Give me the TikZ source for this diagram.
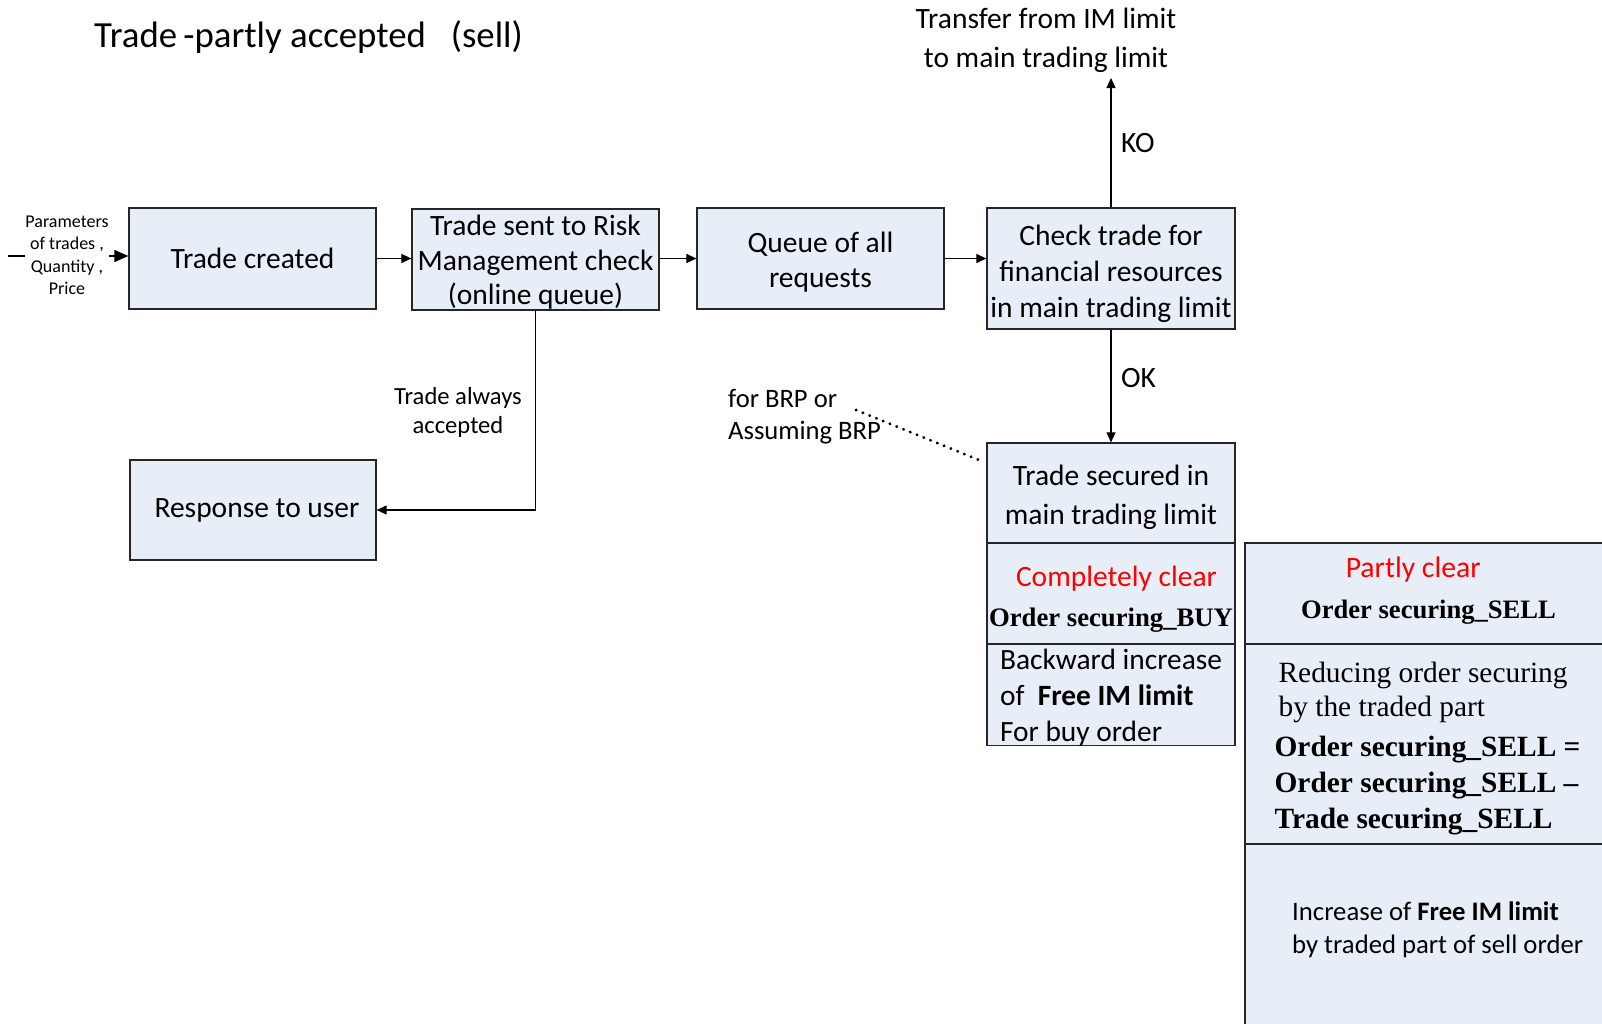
\documentclass[tikz,border=0pt]{standalone}
\usepackage{fontspec}
\setmainfont{Carlito}
\newfontfamily\tnr{Liberation Serif}
\usetikzlibrary{arrows.meta,calc}
\definecolor{boxfill}{RGB}{232,238,247}
\begin{document}
\begin{tikzpicture}[x=1pt,y=-1pt,
  box/.style={draw=black!85, line width=1.2pt, fill=boxfill, inner sep=0pt, align=center,
    minimum width=247pt, minimum height=101pt},
  conn/.style={line width=1.1pt, -{Triangle[length=10pt,width=9pt]}},
  bigconn/.style={line width=1.1pt, -{Triangle[length=14pt,width=12pt]}},
  txt/.style={inner sep=0pt, align=center},
  boxfont/.style={font=\fontsize{29.5}{34.5}\selectfont},
]
\useasboundingbox (0,0) rectangle (1602,1023);
% title
\node[txt, anchor=west, font=\fontsize{36.8}{42}\selectfont] (title) at (94,37) {Trade\,-partly accepted \ \ (sell)};
% main boxes
\node[box, boxfont] (created) at (252.5,258.5) {Trade created};
\node[box] (sent) at (535.5,259.5) {};
\node[txt, boxfont] (senttxt) at ($(sent.center)+(0,3.1)$) {Trade sent to Risk\\Management check\\(online queue)};
\node[box] (queue) at (820.5,258.5) {};
\node[txt, boxfont] (queuetxt) at ($(queue.center)+(0,3.6)$) {Queue of all\\requests};
\node[box, minimum width=248pt, minimum height=121pt] (check) at (1111,268.5) {};
\node[txt, font=\fontsize{29.5}{36}\selectfont] (checktxt) at ($(check.center)+(0,5.1)$) {Check trade for\\financial resources\\in main trading limit};
\node[box, minimum width=248pt, minimum height=100pt] (secured) at (1111,493) {};
\node[txt, font=\fontsize{29.5}{39}\selectfont] (securedtxt) at ($(secured.center)+(0,4.1)$) {Trade secured in\\main trading limit};
\node[box, minimum width=248pt] (clear) at (1111,593.5) {};
\node[txt, font=\fontsize{29.5}{40}\selectfont] (cleartxt) at ($(clear.center)+(0,5.6)$) {\hspace*{11pt}{\color{red}Completely clear}\\{\tnr\bfseries\fontsize{26.7}{40}\selectfont Order securing\_BUY}};
\node[box, minimum width=248pt] (backward) at (1111,695) {};
\node[txt, align=left, font=\fontsize{29.4}{36}\selectfont] (backwardtxt) at ($(backward.center)+(0,3.1)$) {Backward increase\\of \ \textbf{Free IM limit}\\For buy order};
\node[box, boxfont, minimum width=246pt, minimum height=100pt] (response) at (253,510) {\hspace*{8pt}Response to user};
% right column
\node[box, minimum width=365pt] (partly) at (1427.5,593.5) {};
\node[txt, font=\fontsize{29.7}{41}\selectfont] (partlytxt) at ($(partly.center)+(0,-2.5)$) {{\color{red}Partly clear}\hspace*{28.6pt}\\{\tnr\bfseries\fontsize{26.6}{41}\selectfont \hspace*{2pt}Order securing\_SELL}};
\node[box, minimum width=365pt, minimum height=200pt] (reducing) at (1427.5,744) {};
\node[txt, align=left, font=\tnr\fontsize{29.4}{34}\selectfont] (reducingtxt) at ($(reducing.center)+(0,4.6)$) {%
  \hspace*{4pt}Reducing order securing\\
  \hspace*{4pt}by the traded part\\[6pt]
  \bfseries Order securing\_SELL =\\[2pt]
  \bfseries Order securing\_SELL –\\[2pt]
  \bfseries Trade securing\_SELL};
\node[box, minimum width=365pt, minimum height=200pt] (increase) at (1427.5,944) {};
\node[txt, anchor=west, align=left, font=\fontsize{26.7}{33}\selectfont] (increasetxt) at (1292,930) {Increase of \textbf{Free IM limit}\\by traded part of sell order};
% input parameters
\coordinate (pstart) at (8,256);
\draw[bigconn] (pstart) -- (pstart -| created.west);
\node[txt, fill=white, font=\fontsize{18}{22.5}\selectfont] (params) at (67,255.5) {Parameters\\of trades ,\\Quantity ,\\Price};
% flow connectors
\draw[conn] (created.east) -- (sent.west |- created.east);
\draw[conn] (sent.east |- created.east) -- (queue.west);
\draw[conn] (queue.east) -- (queue.east -| check.west);
% KO branch
\node[txt, font=\fontsize{29.5}{39}\selectfont] (transfer) at (1046,40) {Transfer from IM limit\\to main trading limit};
\coordinate (koend) at (check.north |- 0,78);
\draw[conn] (check.north) -- (koend);
\node[txt, anchor=west, font=\fontsize{29.5}{30}\selectfont] (ko) at (1121,143) {KO};
% OK branch
\draw[conn] (check.south) -- (secured.north);
\node[txt, anchor=west, font=\fontsize{29.5}{30}\selectfont] (ok) at (1121,378) {OK};
% response branch
\draw[conn] (sent.south) |- (response.east);
\node[txt, font=\fontsize{24.6}{29}\selectfont] (always) at (458,412.5) {Trade always\\accepted};
% BRP note
\node[txt, anchor=west, align=left, font=\fontsize{26.6}{32}\selectfont] (brp) at (728,417) {for BRP or\\Assuming BRP};
\coordinate (brpstart) at (856,410);
\draw[line width=3pt, line cap=round, dash pattern=on 0.3pt off 7pt] (brpstart) -- ($(secured.north west)+(-4,19)$);
\end{tikzpicture}
\end{document}
